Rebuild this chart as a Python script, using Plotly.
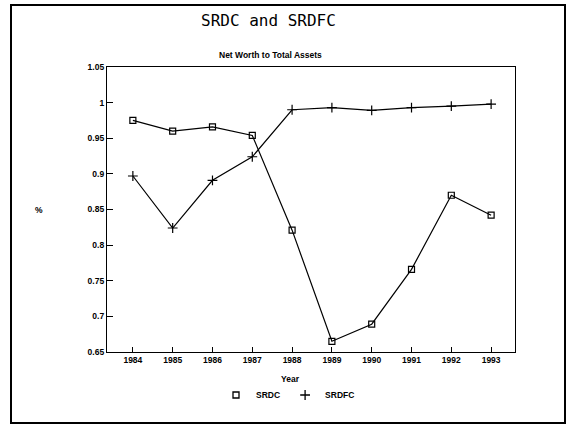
import plotly.graph_objects as go

years = [1984, 1985, 1986, 1987, 1988, 1989, 1990, 1991, 1992, 1993]
srdc = [0.975, 0.960, 0.966, 0.954, 0.821, 0.665, 0.689, 0.766, 0.870, 0.842]
srdfc = [0.897, 0.824, 0.891, 0.924, 0.990, 0.993, 0.989, 0.993, 0.995, 0.998]
y_tick_vals = [0.65, 0.7, 0.75, 0.8, 0.85, 0.9, 0.95, 1.0, 1.05]
y_tick_text = ["0.65", "0.7", "0.75", "0.8", "0.85", "0.9", "0.95", "1", "1.05"]
x_tick_text = [str(y) for y in years]

W, H = 568, 425
L, R, T, B = 107, 515, 67, 352
pw, ph = R - L, B - T


def px_x(x):
    return (x - L) / pw


def px_y(y):
    return (B - y) / ph


small = dict(family="Liberation Sans", size=8.5, color="black", weight="bold")

fig = go.Figure()
fig.add_trace(go.Scatter(
    x=years, y=srdc, mode="lines+markers", name="SRDC", showlegend=False,
    line=dict(color="black", width=1.2),
    marker=dict(symbol="square-open", size=6, color="black", line=dict(width=1.2, color="black")),
))
fig.add_trace(go.Scatter(
    x=years, y=srdfc, mode="lines+markers", name="SRDFC", showlegend=False,
    line=dict(color="black", width=1.2),
    marker=dict(symbol="cross-thin-open", size=7, color="black", line=dict(width=1.2, color="black")),
))
# legend entries (markers only, as in the reference)
fig.add_trace(go.Scatter(
    x=[None], y=[None], mode="markers", name="SRDC",
    marker=dict(symbol="square-open", size=6, color="black", line=dict(width=1.3, color="black")),
))
fig.add_trace(go.Scatter(
    x=[None], y=[None], mode="markers", name="SRDFC",
    marker=dict(symbol="cross-thin-open", size=7, color="black", line=dict(width=1.3, color="black")),
))

fig.update_layout(
    width=W, height=H,
    margin=dict(l=L, r=W - R, t=T, b=H - B, pad=0),
    paper_bgcolor="white", plot_bgcolor="white",
    showlegend=True,
    legend=dict(orientation="h", x=px_x(216), xanchor="left", y=px_y(395), yanchor="middle",
                font=small, itemwidth=30, tracegroupgap=0, bgcolor="rgba(0,0,0,0)"),
    xaxis=dict(range=[1983.35, 1993.6], tickmode="array", tickvals=years, ticktext=x_tick_text,
               ticks="inside", ticklen=5, tickwidth=1, tickcolor="black",
               showline=True, linecolor="black", linewidth=1.3, mirror=True,
               showgrid=False, zeroline=False, tickfont=small),
    yaxis=dict(range=[0.65, 1.05], tickmode="array", tickvals=y_tick_vals, ticktext=y_tick_text,
               ticks="inside", ticklen=6, tickwidth=1, tickcolor="black",
               showline=True, linecolor="black", linewidth=1.3, mirror=True,
               showgrid=False, zeroline=False, tickfont=small),
    shapes=[dict(type="rect", xref="paper", yref="paper",
                 x0=px_x(11), x1=px_x(565), y0=px_y(423), y1=px_y(5),
                 line=dict(color="black", width=2), fillcolor="rgba(0,0,0,0)", layer="below")],
    annotations=[
        dict(text="SRDC and SRDFC", xref="paper", yref="paper", x=px_x(268), y=px_y(21),
             xanchor="center", yanchor="middle", showarrow=False,
             font=dict(family="DejaVu Sans Mono", size=16, color="black")),
        dict(text="Net Worth to Total Assets", xref="paper", yref="paper", x=px_x(270), y=px_y(55),
             xanchor="center", yanchor="middle", showarrow=False, font=small),
        dict(text="Year", xref="paper", yref="paper", x=px_x(290), y=px_y(379),
             xanchor="center", yanchor="middle", showarrow=False, font=small),
        dict(text="%", xref="paper", yref="paper", x=px_x(39), y=px_y(210),
             xanchor="center", yanchor="middle", showarrow=False, font=small),
    ],
)

fig.write_html("out.html")
